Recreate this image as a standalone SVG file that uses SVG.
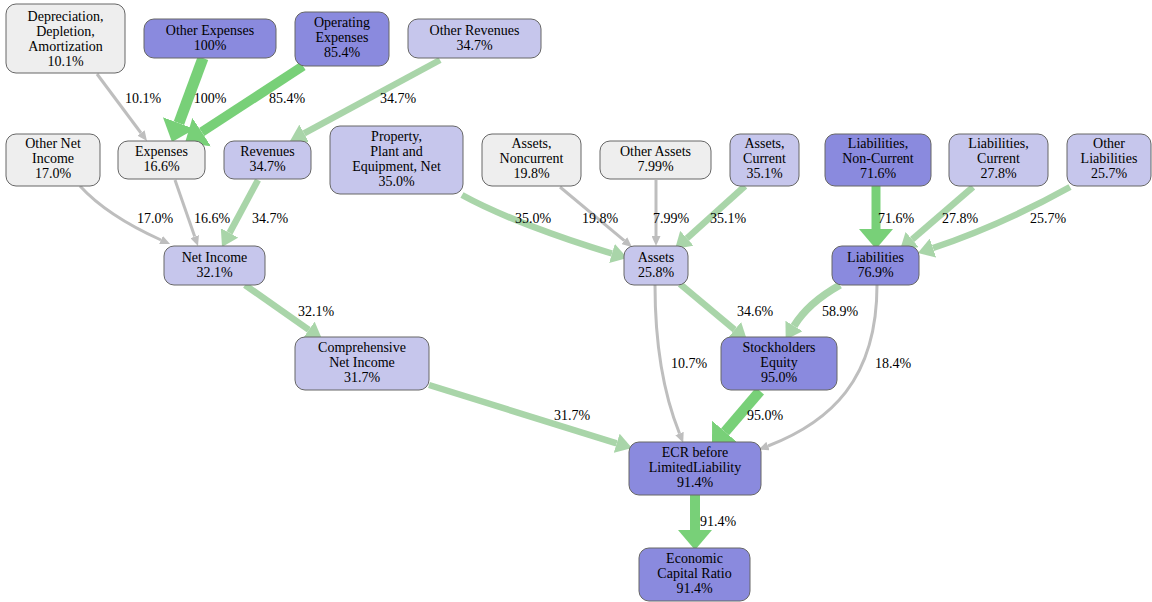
<svg xmlns="http://www.w3.org/2000/svg" width="1152" height="602" viewBox="0 0 1152 602">
<style>
.n rect{stroke:#666666;stroke-width:1}
.g0 rect{fill:#eeeeee}
.g1 rect{fill:#c6c6ec}
.g2 rect{fill:#8a8ade}
text{font-family:Liberation Serif,Times New Roman,Times,Tinos,Noto Serif,DejaVu Serif,FreeSerif,serif;font-size:14px;fill:#000;text-anchor:middle}
.e path{fill:none;stroke-linecap:butt}
.gr{stroke:#bebebe;stroke-width:3}
.lg{stroke:#a9d5a9;stroke-width:6.5}
.dg{stroke:#78d078}
</style>
<defs>
<marker id="mgr" markerUnits="userSpaceOnUse" markerWidth="10" markerHeight="9" refX="0" refY="4.5" orient="auto"><path d="M0,0 L10,4.5 L0,9 Z" fill="#bebebe"/></marker>
<marker id="mlg" markerUnits="userSpaceOnUse" markerWidth="16" markerHeight="20" refX="0" refY="10" orient="auto"><path d="M0,0 L16,10 L0,20 Z" fill="#a9d5a9"/></marker>
<marker id="mdg" markerUnits="userSpaceOnUse" markerWidth="20" markerHeight="34" refX="0" refY="17" orient="auto"><path d="M0,0 L20,17 L0,34 Z" fill="#78d078"/></marker>
</defs>
<g id="connectors" class="e">
<path class="gr" marker-end="url(#mgr)" d="M97,74 L141,133"/>
<path class="dg" style="stroke-width:11" marker-end="url(#mdg)" d="M203,58 L178.9,123.2"/>
<path class="dg" style="stroke-width:9.5" marker-end="url(#mdg)" d="M303,66 L201.7,132.1"/>
<path class="lg" marker-end="url(#mlg)" d="M440,60 L304.1,133.4"/>
<path class="gr" marker-end="url(#mgr)" d="M80,186 C100,208 130,226 161,240"/>
<path class="gr" marker-end="url(#mgr)" d="M175,180 L194.7,236.6"/>
<path class="lg" marker-end="url(#mlg)" d="M258,180 L229.6,232.9"/>
<path class="lg" marker-end="url(#mlg)" d="M245,285 L308.9,329.8"/>
<path class="lg" marker-end="url(#mlg)" d="M429,385 L616.7,443.3"/>
<path class="lg" marker-end="url(#mlg)" d="M462,195 C500,216 560,238 612,253.5"/>
<path class="gr" marker-end="url(#mgr)" d="M560,187 L624.3,240.6"/>
<path class="gr" marker-end="url(#mgr)" d="M656,180 L656,236"/>
<path class="lg" marker-end="url(#mlg)" d="M745,186 L686.9,238.3"/>
<path class="dg" style="stroke-width:9" marker-end="url(#mdg)" d="M876,186 L876,229"/>
<path class="lg" marker-end="url(#mlg)" d="M973,187 L912.1,239.5"/>
<path class="lg" marker-end="url(#mlg)" d="M1070,187 C1025,212 975,234 933,248"/>
<path class="lg" marker-end="url(#mlg)" d="M680,284 L734.7,329.7"/>
<path class="lg" style="stroke-width:7.5" marker-end="url(#mlg)" d="M840,285 Q808,303 794,326"/>
<path class="gr" marker-end="url(#mgr)" d="M655,285 C655,350 666,400 679.5,433.5"/>
<path class="gr" marker-end="url(#mgr)" d="M877,285 C877,380 830,422 768,446"/>
<path class="dg" style="stroke-width:10.5" marker-end="url(#mdg)" d="M760,391 L725,431.8"/>
<path class="dg" style="stroke-width:10" marker-end="url(#mdg)" d="M695,495 L695,530"/>
</g>
<g id="edge-labels">
<text x="143" y="103">10.1%</text>
<text x="210" y="103">100%</text>
<text x="287" y="103">85.4%</text>
<text x="398" y="103">34.7%</text>
<text x="155" y="223">17.0%</text>
<text x="212" y="223">16.6%</text>
<text x="270" y="223">34.7%</text>
<text x="533" y="223">35.0%</text>
<text x="600" y="223">19.8%</text>
<text x="671" y="223">7.99%</text>
<text x="728" y="223">35.1%</text>
<text x="896" y="223">71.6%</text>
<text x="960" y="223">27.8%</text>
<text x="1048" y="223">25.7%</text>
<text x="316" y="316">32.1%</text>
<text x="755" y="316">34.6%</text>
<text x="840" y="316">58.9%</text>
<text x="689" y="368">10.7%</text>
<text x="893" y="368">18.4%</text>
<text x="572" y="420">31.7%</text>
<text x="765" y="420">95.0%</text>
<text x="718" y="526">91.4%</text>
</g>
<g id="dep" class="n g0"><rect x="6" y="4" width="119" height="69" rx="10"/><text x="65.5" y="21">Depreciation,</text><text x="65.5" y="36">Depletion,</text><text x="65.5" y="51">Amortization</text><text x="65.5" y="66">10.1%</text></g>
<g id="oexp" class="n g2"><rect x="144" y="19" width="132" height="39" rx="10"/><text x="210" y="35">Other Expenses</text><text x="210" y="50">100%</text></g>
<g id="opexp" class="n g2"><rect x="295" y="12" width="94" height="54" rx="10"/><text x="342" y="27">Operating</text><text x="342" y="42">Expenses</text><text x="342" y="57">85.4%</text></g>
<g id="orev" class="n g1"><rect x="408" y="19" width="133" height="39" rx="10"/><text x="474.5" y="35">Other Revenues</text><text x="474.5" y="50">34.7%</text></g>
<g id="oni" class="n g0"><rect x="6" y="134" width="94" height="52" rx="10"/><text x="53" y="148">Other Net</text><text x="53" y="163">Income</text><text x="53" y="178">17.0%</text></g>
<g id="exp" class="n g0"><rect x="118" y="141" width="87" height="38" rx="10"/><text x="161.5" y="156">Expenses</text><text x="161.5" y="171">16.6%</text></g>
<g id="rev" class="n g1"><rect x="224" y="141" width="87" height="38" rx="10"/><text x="267.5" y="156">Revenues</text><text x="267.5" y="171">34.7%</text></g>
<g id="ppe" class="n g1"><rect x="330" y="126" width="133" height="68" rx="10"/><text x="396.5" y="141">Property,</text><text x="396.5" y="156">Plant and</text><text x="396.5" y="171">Equipment, Net</text><text x="396.5" y="186">35.0%</text></g>
<g id="anc" class="n g0"><rect x="482" y="134" width="99" height="52" rx="10"/><text x="531.5" y="148">Assets,</text><text x="531.5" y="163">Noncurrent</text><text x="531.5" y="178">19.8%</text></g>
<g id="oa" class="n g0"><rect x="600" y="141" width="111" height="38" rx="10"/><text x="655.5" y="156">Other Assets</text><text x="655.5" y="171">7.99%</text></g>
<g id="ac" class="n g1"><rect x="730" y="134" width="69" height="52" rx="10"/><text x="764.5" y="148">Assets,</text><text x="764.5" y="163">Current</text><text x="764.5" y="178">35.1%</text></g>
<g id="lnc" class="n g2"><rect x="825" y="134" width="106" height="52" rx="10"/><text x="878" y="148">Liabilities,</text><text x="878" y="163">Non-Current</text><text x="878" y="178">71.6%</text></g>
<g id="lc" class="n g1"><rect x="949" y="134" width="99" height="52" rx="10"/><text x="998.5" y="148">Liabilities,</text><text x="998.5" y="163">Current</text><text x="998.5" y="178">27.8%</text></g>
<g id="ol" class="n g1"><rect x="1067" y="134" width="84" height="52" rx="10"/><text x="1109" y="148">Other</text><text x="1109" y="163">Liabilities</text><text x="1109" y="178">25.7%</text></g>
<g id="ni" class="n g1"><rect x="164" y="246" width="101" height="39" rx="10"/><text x="214.5" y="262">Net Income</text><text x="214.5" y="277">32.1%</text></g>
<g id="assets" class="n g1"><rect x="624" y="246" width="64" height="39" rx="10"/><text x="656" y="262">Assets</text><text x="656" y="277">25.8%</text></g>
<g id="liab" class="n g2"><rect x="832" y="246" width="87" height="39" rx="10"/><text x="875.5" y="262">Liabilities</text><text x="875.5" y="277">76.9%</text></g>
<g id="cni" class="n g1"><rect x="295" y="337" width="134" height="53" rx="10"/><text x="362" y="352">Comprehensive</text><text x="362" y="367">Net Income</text><text x="362" y="382">31.7%</text></g>
<g id="se" class="n g2"><rect x="721" y="337" width="116" height="53" rx="10"/><text x="779" y="352">Stockholders</text><text x="779" y="367">Equity</text><text x="779" y="382">95.0%</text></g>
<g id="ecr" class="n g2"><rect x="629" y="442" width="132" height="53" rx="10"/><text x="695" y="457">ECR before</text><text x="695" y="472">LimitedLiability</text><text x="695" y="487">91.4%</text></g>
<g id="ecr2" class="n g2"><rect x="639" y="548" width="111" height="53" rx="10"/><text x="694.5" y="563">Economic</text><text x="694.5" y="578">Capital Ratio</text><text x="694.5" y="593">91.4%</text></g>
</svg>
